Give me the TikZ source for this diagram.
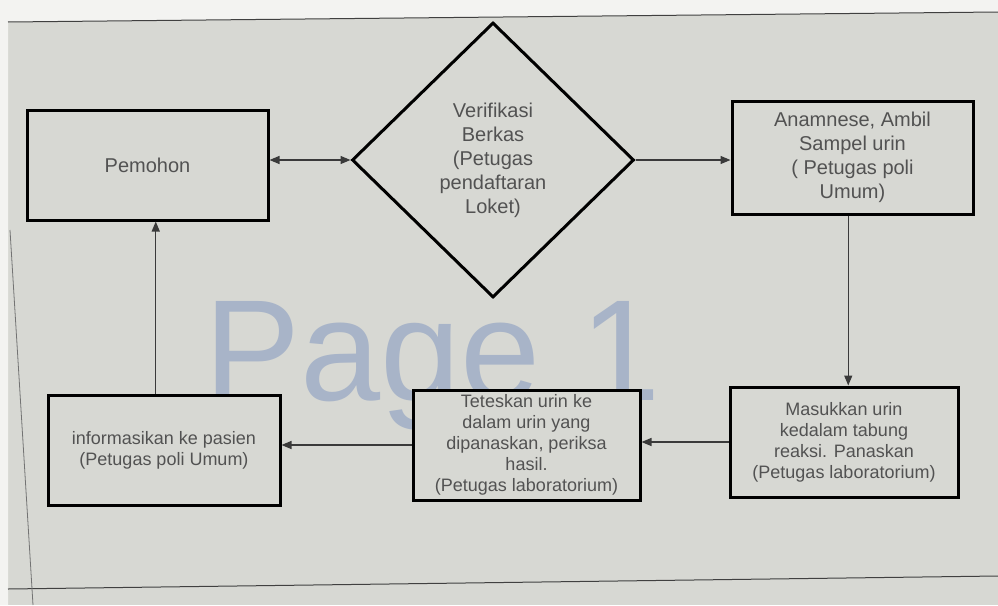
\documentclass[tikz,border=0pt]{standalone}
\usepackage{fontspec}
\setmainfont{Liberation Sans}
\usetikzlibrary{shapes.geometric,arrows.meta,calc}
\definecolor{bg}{HTML}{D7D8D3}
\definecolor{paper}{HTML}{F3F3F1}
\definecolor{txt}{HTML}{525252}
\definecolor{wm}{HTML}{A8B4C8}
\definecolor{conn}{HTML}{3A3A3A}
\begin{document}
\begin{tikzpicture}[x=1pt,y=-1pt,
  box/.style={draw=black,line width=3pt,fill=bg,inner sep=0pt,align=center,text=txt},
  bigtext/.style={font=\fontsize{20}{24}\selectfont},
  smalltext/.style={font=\fontsize{18}{21}\selectfont},
  conn/.style={draw=conn,line width=1.3pt,-{Triangle[length=10pt,width=8pt]}},
  pageline/.style={draw=black!75,line width=1pt}
]
\useasboundingbox (0,0) rectangle (998,605);
\fill[bg] (0,0) rectangle (998,605);
\fill[paper] (0,0) -- (998,0) -- (998,12) -- (8,22) -- (8,605) -- (0,605) -- cycle;
\draw[pageline] (8,22) -- (998,12);
\draw[pageline] (8,589) -- (998,576);
\draw[draw=black!55,line width=0.8pt] (10,230) -- (33,605);

% watermark
\node[anchor=base west,inner sep=0pt,text=wm,font=\fontsize{144}{144}\selectfont] (wmark) at (204,400) {Page 1};

% nodes
\node[box,bigtext,minimum width=241,minimum height=110] (pem) at (147.5,165) {Pemohon};
\node[box,bigtext,diamond,minimum width=282,minimum height=275] (ver) at (493,160)
  {Verifikasi\\Berkas\\(Petugas\\pendaftaran\\Loket)};
\node[box,bigtext,minimum width=241,minimum height=113] (ana) at (852.5,157.5)
  {Anamnese, Ambil\\Sampel urin\\( Petugas poli\\Umum)};
\node[box,smalltext,minimum width=228,minimum height=110] (mas) at (844,442)
  {Masukkan urin\\kedalam tabung\\reaksi. Panaskan\\(Petugas laboratorium)};
\node[box,smalltext,minimum width=227,minimum height=110] (tet) at (526.5,445)
  {Teteskan urin ke\\dalam urin yang\\dipanaskan, periksa\\hasil.\\(Petugas laboratorium)};
\node[box,smalltext,minimum width=232,minimum height=110] (inf) at (164,450)
  {informasikan ke pasien\\(Petugas poli Umum)};

% connectors
\draw[conn,{Triangle[length=10pt,width=8pt]}-{Triangle[length=10pt,width=8pt]}]
  (pem.east |- ver.west) -- (ver.west);
\draw[conn] (ver.east) -- (ver.east -| ana.west);
\coordinate (vx) at ($(ana.south)!0.5!(ana.south -| mas.north)$);
\draw[conn] (vx) -- (vx |- mas.north);
\draw[conn] (mas.west) -- (mas.west -| tet.east);
\draw[conn] (tet.west) -- (tet.west -| inf.east);
\coordinate (ux) at ($(inf.north)!0.5!(inf.north -| pem.south)$);
\draw[conn] (ux) -- (ux |- pem.south);
\end{tikzpicture}
\end{document}
